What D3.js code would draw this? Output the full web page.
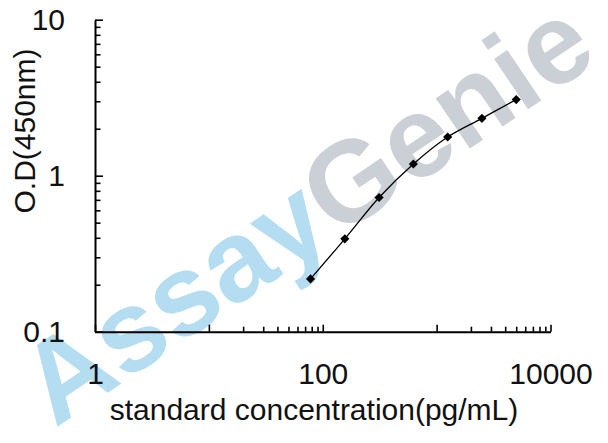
<!DOCTYPE html>
<html>
<head>
<meta charset="utf-8">
<script src="https://cdn.jsdelivr.net/npm/d3@7"></script>
<style>
  body { margin: 0; background: #fff; }
  svg { display: block; font-family: "Liberation Sans", Arial, sans-serif; }
</style>
</head>
<body>
<svg width="608" height="443"></svg>
<script>
const width = 608;
const height = 443;

// standard curve readings
const concentrations = [78.125, 156.25, 312.5, 625, 1250, 2500, 5000];
const odValues = [0.218, 0.394, 0.725, 1.189, 1.771, 2.333, 3.076];

const xMajorTicks = [1, 10, 100, 1000, 10000];
const xTickLabels = [1, 100, 10000];
const xMinorDecades = [10, 1000];   // only these decades carry minor ticks
const yMajorTicks = [0.1, 1, 10];
const yTickLabels = [0.1, 1, 10];
const yMinorDecades = [0.1, 1];

const svg = d3.select("svg");

svg.append("rect")
  .attr("width", width)
  .attr("height", height)
  .attr("fill", "#fff");

// watermark
const wm = svg.append("text")
  .attr("transform", "translate(309,216) rotate(-34)")
  .attr("text-anchor", "middle")
  .attr("dy", 34)
  .style("font-size", "115px")
  .style("font-weight", "bold");
wm.append("tspan").attr("fill", "#b4ddf2").text("Assay");
wm.append("tspan").attr("fill", "#cbd0d6").text("Genie");

const x = d3.scaleLog()
  .domain([1, 10000])
  .range([95, 550.5]);

const y = d3.scaleLog()
  .domain([0.1, 10])
  .range([331.7, 19.7]);

const minorOf = decades => decades.flatMap(d => d3.range(2, 10).map(k => k * d));

// x minor ticks
svg.append("g")
  .attr("transform", `translate(0,${y(0.1)})`)
  .call(d3.axisBottom(x).tickValues(minorOf(xMinorDecades)).tickSize(-5).tickSizeOuter(0).tickFormat(""))
  .call(g => g.select(".domain").remove());

// y minor ticks
svg.append("g")
  .attr("transform", `translate(${x(1)},0)`)
  .call(d3.axisLeft(y).tickValues(minorOf(yMinorDecades)).tickSize(-5.5).tickSizeOuter(0).tickFormat(""))
  .call(g => g.select(".domain").remove());

const xAxis = svg.append("g")
  .attr("transform", `translate(0,${y(0.1)})`)
  .call(d3.axisBottom(x)
    .tickValues(xMajorTicks)
    .tickSize(-7)
    .tickSizeOuter(0)
    .tickPadding(31)
    .tickFormat(d => xTickLabels.includes(d) ? String(d) : ""));

const yAxis = svg.append("g")
  .attr("transform", `translate(${x(1)},0)`)
  .call(d3.axisLeft(y)
    .tickValues(yMajorTicks)
    .tickSize(-8)
    .tickSizeOuter(0)
    .tickPadding(30)
    .tickFormat(d => yTickLabels.includes(d) ? String(d) : ""));

svg.selectAll(".tick line").attr("stroke", "#000").attr("stroke-width", 1.6);
svg.selectAll(".domain").attr("stroke", "#000").attr("stroke-width", 2);
svg.selectAll(".tick text")
  .attr("fill", "#111")
  .style("font-size", "30px")
  .style("font-family", "'Liberation Sans', Arial, sans-serif");

// axis titles
svg.append("text")
  .attr("x", 314)
  .attr("y", 420)
  .attr("text-anchor", "middle")
  .attr("fill", "#111")
  .style("font-size", "30px")
  .text("standard concentration(pg/mL)");

svg.append("text")
  .attr("transform", "translate(35,131) rotate(-90)")
  .attr("text-anchor", "middle")
  .attr("fill", "#111")
  .style("font-size", "30px")
  .text("O.D(450nm)");

const points = concentrations.map((c, i) => ({ c, od: odValues[i] }));

const line = d3.line()
  .x(d => x(d.c))
  .y(d => y(d.od))
  .curve(d3.curveCatmullRom);

svg.append("path")
  .datum(points)
  .attr("d", line)
  .attr("fill", "none")
  .attr("stroke", "#000")
  .attr("stroke-width", 1.3);

svg.selectAll(".marker")
  .data(points)
  .enter()
  .append("path")
  .attr("class", "marker")
  .attr("d", d3.symbol(d3.symbolSquare, 42))
  .attr("transform", d => `translate(${x(d.c)},${y(d.od)}) rotate(45)`)
  .attr("fill", "#000");
</script>
</body>
</html>
